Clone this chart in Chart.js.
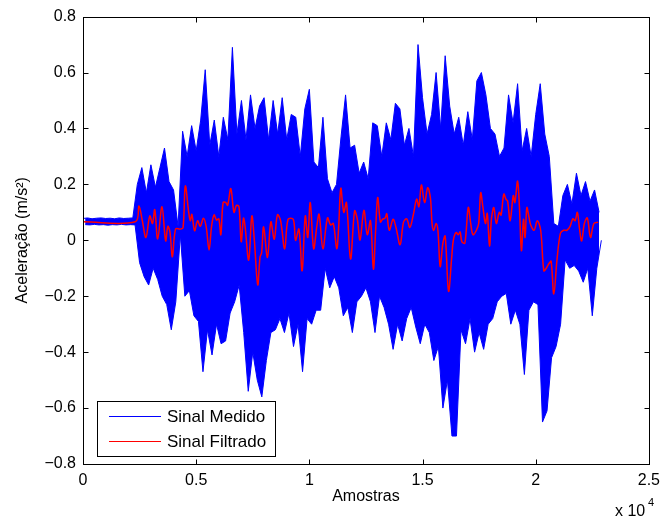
<!DOCTYPE html>
<html lang="pt">
<head>
  <meta charset="UTF-8">
  <title>Sinal Medido x Sinal Filtrado</title>
  <script src="https://cdn.jsdelivr.net/npm/chart.js"></script>
  <style>
    body { margin: 0; background: #fff; }
    canvas { display: block; }
  </style>
</head>
<body>
  <canvas id="sinalChart" width="667" height="520"></canvas>

  <script>
    // Sinal medido: picos superior/inferior lidos a cada 200 amostras (0 .. 22800)
    const passoAmostras = 200;
    const medidoAlto = [
      0.078, 0.080, 0.077, 0.079, 0.080, 0.078, 0.079, 0.077, 0.080, 0.078, 0.079, 0.080,
      0.20, 0.26, 0.17, 0.27, 0.19, 0.26, 0.33, 0.21, 0.18, 0.05,
      0.39, 0.30, 0.41, 0.32, 0.43, 0.61, 0.34, 0.43, 0.30, 0.44,
      0.36, 0.69, 0.38, 0.50, 0.36, 0.52, 0.40, 0.48, 0.51, 0.36,
      0.50, 0.38, 0.51, 0.36, 0.45, 0.44, 0.30, 0.47, 0.54, 0.28,
      0.26, 0.44, 0.22, 0.17, 0.20, 0.37, 0.52, 0.33, 0.34, 0.24,
      0.28, 0.22, 0.42, 0.41, 0.30, 0.42, 0.36, 0.49, 0.47, 0.34,
      0.40, 0.30, 0.70, 0.51, 0.38, 0.45, 0.60, 0.40, 0.66, 0.48,
      0.38, 0.44, 0.34, 0.46, 0.36, 0.57, 0.60, 0.52, 0.40, 0.38,
      0.30, 0.33, 0.52, 0.42, 0.56, 0.32, 0.40, 0.30, 0.45, 0.56,
      0.38, 0.30, 0.06, 0.05, 0.16, 0.20, 0.13, 0.24, 0.16, 0.21,
      0.14, 0.18, 0.10
    ];
    const medidoBaixo = [
      0.056, 0.055, 0.057, 0.055, 0.056, 0.054, 0.056, 0.055, 0.057, 0.055, 0.056, 0.055,
      -0.08, -0.13, -0.16, -0.10, -0.14, -0.20, -0.23, -0.32, -0.22, 0.02,
      -0.20, -0.18, -0.27, -0.29, -0.47, -0.32, -0.41, -0.30, -0.37, -0.36,
      -0.26, -0.22, -0.16, -0.33, -0.54, -0.40, -0.50, -0.56, -0.43, -0.33,
      -0.32, -0.28, -0.33, -0.26, -0.38, -0.30, -0.47, -0.28, -0.30, -0.25,
      -0.25, -0.10, -0.17, -0.13, -0.17, -0.27, -0.24, -0.33, -0.22, -0.20,
      -0.17, -0.22, -0.33, -0.20, -0.24, -0.30, -0.39, -0.30, -0.36, -0.28,
      -0.24, -0.31, -0.37, -0.30, -0.33, -0.43, -0.38, -0.60, -0.50, -0.70,
      -0.70, -0.32, -0.37, -0.28, -0.40, -0.33, -0.39, -0.30, -0.28, -0.22,
      -0.20, -0.19, -0.30, -0.25, -0.30, -0.48, -0.25, -0.22, -0.23, -0.65,
      -0.61, -0.42, -0.38, -0.30, -0.07, -0.10, -0.09, -0.11, -0.15, -0.10,
      -0.27, -0.10, 0.00
    ];

    // Sinal filtrado: pontos lidos (amostra, aceleração)
    const filtradoX = [
      0, 2310, 2470, 2620, 2780, 2950, 3070, 3170, 3300, 3490, 3650, 3750, 3840, 3950,
      4090, 4300, 4420, 4520, 4670, 4740, 4810, 4930, 5060, 5180, 5320, 5440, 5570,
      5680, 5790, 5900, 6000, 6090, 6190, 6310, 6390, 6530, 6670, 6780, 6890, 6990,
      7090, 7160, 7320, 7460, 7570, 7720, 7820, 7890, 7980, 8150, 8300, 8450, 8590,
      8730, 8910, 9060, 9290, 9390, 9540, 9680, 9820, 9930, 10040, 10190, 10330,
      10430, 10600, 10800, 10940, 11060, 11210, 11290, 11390, 11520, 11640, 11820,
      12000, 12120, 12240, 12410, 12560, 12700, 12830, 12930, 13020, 13140, 13230,
      13350, 13420, 13530, 13700, 13830, 14010, 14160, 14300, 14440, 14590, 14740,
      14840, 14950, 15090, 15230, 15350, 15420, 15490, 15600, 15680, 15780, 15900,
      16000, 16150, 16290, 16360, 16480, 16580, 16660, 16740, 16870, 17020, 17130,
      17230, 17380, 17480, 17570, 17670, 17780, 17860, 17960, 18050, 18150, 18260,
      18390, 18470, 18590, 18690, 18760, 18870, 19010, 19080, 19200, 19280, 19370,
      19460, 19530, 19610, 19710, 19780, 19930, 20070, 20220, 20360, 20480, 20580,
      20680, 20800, 20940, 21090, 21230, 21380, 21520, 21640, 21740, 21840, 21930,
      22030, 22150, 22280, 22420, 22570, 22760
    ];
    const filtradoY = [
      0.066, 0.066, 0.123, 0.070, 0.010, 0.087, 0.060, 0.110, 0.005, 0.120, -0.002, 0.050, 0.030, -0.059,
      0.040, 0.040, 0.045, 0.194, 0.100, 0.070, 0.093, 0.034, 0.070, 0.050, 0.079, 0.050, -0.035,
      0.050, 0.091, 0.072, 0.077, 0.020, 0.135, 0.135, 0.125, 0.185, 0.100, 0.125, 0.120, -0.005,
      0.079, 0.050, -0.071, 0.087, 0.000, -0.159, -0.060, -0.045, 0.048, -0.061, 0.066, 0.004, 0.091,
      0.070, -0.031, 0.075, 0.075, 0.000, 0.040, -0.109, 0.087, 0.010, 0.135, -0.030, 0.050,
      0.093, -0.030, 0.080, 0.055, 0.060, -0.030, 0.040, 0.186, 0.100, 0.135, -0.067,
      0.105, 0.075, 0.001, 0.107, 0.020, 0.070, -0.103, 0.040, 0.153, 0.065, 0.075,
      0.080, 0.095, 0.036, 0.075, 0.045, -0.016, 0.065, 0.077, 0.046, 0.090, 0.147,
      0.120, 0.198, 0.135, 0.188, 0.150, 0.060, 0.035, 0.060, 0.035, -0.094, -0.010,
      0.015, -0.182, -0.060, 0.000, 0.028, 0.020, 0.030, -0.005, -0.010, 0.117, 0.060,
      0.020, 0.036, 0.060, 0.170, 0.117, 0.060, 0.096, -0.020, 0.080, 0.117, 0.060,
      0.100, 0.090, 0.165, 0.146, 0.140, 0.070, 0.160, 0.135, 0.212, 0.120, -0.037,
      0.075, 0.010, 0.117, 0.080, 0.055, 0.036, 0.070, 0.036, -0.109, -0.098, -0.084,
      -0.075, -0.192, -0.070, 0.025, 0.036, 0.036, 0.050, 0.077, 0.070, 0.100, 0.045,
      -0.002, 0.060, 0.080, 0.010, 0.060, 0.065
    ];

    const xTicks = [0, 5000, 10000, 15000, 20000, 25000];
    const yTicks = [-0.8, -0.6, -0.4, -0.2, 0, 0.2, 0.4, 0.6, 0.8];

    const fonte = '"Liberation Sans", Arial, Helvetica, sans-serif';

    // envoltorias do sinal medido (picos inferiores defasados meio passo)
    const medidoAltoPontos = medidoAlto.map((v, i) => ({ x: i * passoAmostras, y: v }));
    const medidoBaixoPontos = medidoBaixo.map((v, i) => ({ x: i * passoAmostras + passoAmostras / 2, y: v }));
    const filtradoPontos = filtradoX.map((x, i) => ({ x, y: filtradoY[i] }));

    function fmtNum(v) {
      const s = String(Math.round(v * 10) / 10);
      return s.replace('-', '\u2212');
    }

    // moldura, ticks internos, legenda e multiplicador "x 10^4"
    const molduraPlugin = {
      id: 'moldura',
      afterDraw(chart) {
        const { ctx, chartArea: a, scales: { x, y } } = chart;
        const L = Math.round(a.left) + 0.5, R = Math.round(a.right) + 0.5;
        const T = Math.round(a.top) + 0.5, B = Math.round(a.bottom) + 0.5;
        ctx.save();
        ctx.strokeStyle = '#000';
        ctx.lineWidth = 1;
        ctx.strokeRect(L, T, R - L, B - T);

        ctx.beginPath();
        xTicks.forEach(v => {
          const px = Math.round(x.getPixelForValue(v)) + 0.5;
          ctx.moveTo(px, B); ctx.lineTo(px, B - 5);
          ctx.moveTo(px, T); ctx.lineTo(px, T + 5);
        });
        yTicks.forEach(v => {
          const py = Math.round(y.getPixelForValue(v)) + 0.5;
          ctx.moveTo(L, py); ctx.lineTo(L + 5, py);
          ctx.moveTo(R, py); ctx.lineTo(R - 5, py);
        });
        ctx.stroke();

        // legenda
        const lx = 97.5, ly = 401.5, lw = 178, lh = 55;
        ctx.fillStyle = '#fff';
        ctx.fillRect(lx, ly, lw, lh);
        ctx.strokeRect(lx, ly, lw, lh);
        const itens = [
          { texto: 'Sinal Medido', cor: '#0000ff', yy: 416.5 },
          { texto: 'Sinal Filtrado', cor: '#ff0000', yy: 441.5 }
        ];
        ctx.font = '17px ' + fonte;
        ctx.textBaseline = 'middle';
        ctx.textAlign = 'left';
        itens.forEach(it => {
          ctx.strokeStyle = it.cor;
          ctx.lineWidth = 1;
          ctx.beginPath();
          ctx.moveTo(109, it.yy); ctx.lineTo(161, it.yy);
          ctx.stroke();
          ctx.fillStyle = '#000';
          ctx.fillText(it.texto, 167, it.yy + 1);
        });

        // x 10^4
        ctx.textBaseline = 'alphabetic';
        ctx.font = '16px ' + fonte;
        ctx.fillText('x 10', 615, 516);
        ctx.font = '11px ' + fonte;
        ctx.fillText('4', 648, 506);
        ctx.restore();
      }
    };

    new Chart(document.querySelector('#sinalChart'), {
      type: 'line',
      data: {
        datasets: [
          {
            label: 'Sinal Filtrado',
            data: filtradoPontos,
            borderColor: '#ff0000',
            borderWidth: 1.5,
            pointRadius: 0,
            tension: 0.35,
            fill: false,
            order: 0
          },
          {
            label: 'Sinal Medido',
            data: medidoAltoPontos,
            borderColor: '#0000ff',
            backgroundColor: '#0000ff',
            borderWidth: 1,
            pointRadius: 0,
            tension: 0,
            fill: '+1',
            order: 1
          },
          {
            label: 'Sinal Medido (picos inferiores)',
            data: medidoBaixoPontos,
            borderColor: '#0000ff',
            borderWidth: 1,
            pointRadius: 0,
            tension: 0,
            fill: false,
            order: 2
          }
        ]
      },
      options: {
        responsive: false,
        animation: false,
        events: [],
        layout: { padding: { left: 0, right: 10.5, top: 15, bottom: 0 } },
        plugins: {
          legend: { display: false },
          tooltip: { enabled: false }
        },
        scales: {
          x: {
            type: 'linear',
            min: 0,
            max: 25000,
            afterFit(scale) { scale.height = 56; },
            afterBuildTicks(scale) { scale.ticks = xTicks.map(v => ({ value: v })); },
            grid: { display: false, drawTicks: false },
            border: { display: false },
            ticks: {
              padding: 7,
              color: '#000',
              font: { family: fonte, size: 16 },
              maxRotation: 0,
              callback: v => fmtNum(v / 10000)
            },
            title: {
              display: true,
              text: 'Amostras',
              color: '#000',
              font: { family: fonte, size: 16 },
              padding: { top: 0, bottom: 14 }
            }
          },
          y: {
            type: 'linear',
            min: -0.8,
            max: 0.8,
            afterFit(scale) { scale.width = 83; },
            afterBuildTicks(scale) { scale.ticks = yTicks.map(v => ({ value: v })); },
            grid: { display: false, drawTicks: false },
            border: { display: false },
            ticks: {
              padding: 7,
              color: '#000',
              font: { family: fonte, size: 16 },
              callback: v => fmtNum(v)
            },
            title: {
              display: true,
              text: 'Aceleração (m/s²)',
              color: '#000',
              font: { family: fonte, size: 16 },
              padding: { top: 13, bottom: 0 }
            }
          }
        }
      },
      plugins: [molduraPlugin]
    });
  </script>
</body>
</html>
